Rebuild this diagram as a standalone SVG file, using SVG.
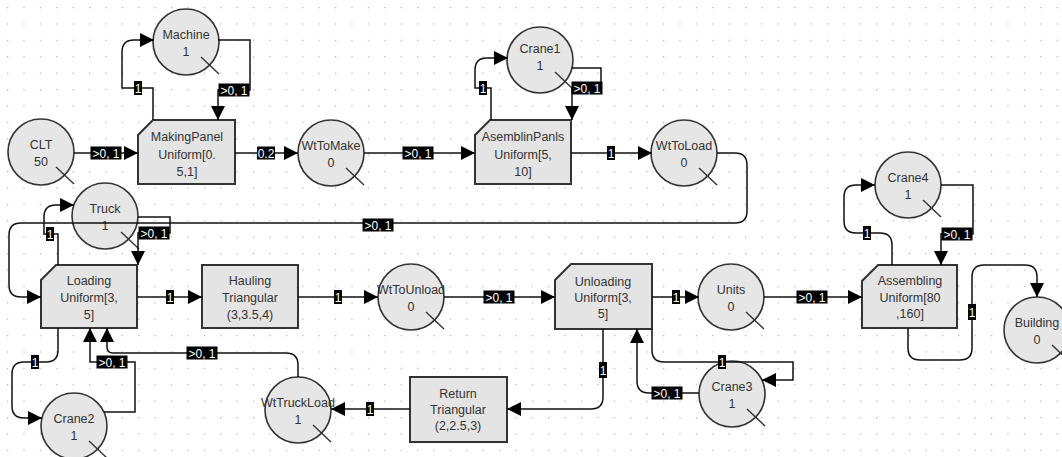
<svg xmlns="http://www.w3.org/2000/svg" width="1062" height="457" viewBox="0 0 1062 457">
  <style>
    .place circle { fill: #e6e6e6; stroke: #333; stroke-width: 1.6; }
    .place line { stroke: #333; stroke-width: 1.4; }
    .trans path { fill: #e4e4e4; stroke: #333; stroke-width: 2; }
    .nt { font-family: "Liberation Sans", Arial, sans-serif; font-size: 12.5px; fill: #333; text-anchor: middle; }
    .arc { fill: none; stroke: #111; stroke-width: 1.5; marker-end: url(#head); }
    .lb rect { fill: #000; }
    .lb text { font-family: "Liberation Sans", Arial, sans-serif; font-size: 12px; fill: #fff; text-anchor: middle; }
  </style>
  <defs>
    <pattern id="dots" x="7" y="7" width="16.4" height="16.4" patternUnits="userSpaceOnUse">
      <rect x="0" y="0" width="1.2" height="1.2" fill="#b0b0b0"/>
    </pattern>
    <marker id="head" markerUnits="userSpaceOnUse" markerWidth="15" markerHeight="15" refX="14" refY="7" orient="auto">
      <path d="M0,0 L14,7 L0,14 z" fill="#000"/>
    </marker>
  </defs>

  <rect width="1062" height="457" fill="#fff"/>
  <rect width="1062" height="457" fill="url(#dots)"/>

  <!-- places -->
  <g id="Machine" class="place"><circle cx="186" cy="42" r="33"/><line x1="201" y1="57" x2="219" y2="74"/><text class="nt" x="186" y="39">Machine</text><text class="nt" x="186" y="56">1</text></g>
  <g id="CLT" class="place"><circle cx="41" cy="152" r="33"/><line x1="56" y1="167" x2="74" y2="184"/><text class="nt" x="41" y="149">CLT</text><text class="nt" x="41" y="166">50</text></g>
  <g id="WtToMake" class="place"><circle cx="331" cy="153" r="33"/><line x1="346" y1="168" x2="364" y2="185"/><text class="nt" x="331" y="150">WtToMake</text><text class="nt" x="331" y="167">0</text></g>
  <g id="Crane1" class="place"><circle cx="540" cy="60" r="33"/><line x1="555" y1="72" x2="573" y2="89"/><text class="nt" x="540" y="53">Crane1</text><text class="nt" x="540" y="70">1</text></g>
  <g id="WtToLoad" class="place"><circle cx="684" cy="153" r="33"/><line x1="699" y1="168" x2="717" y2="185"/><text class="nt" x="684" y="150">WtToLoad</text><text class="nt" x="684" y="167">0</text></g>
  <g id="Truck" class="place"><circle cx="105" cy="216" r="33"/><line x1="121" y1="232" x2="139" y2="249"/><text class="nt" x="105" y="213">Truck</text><text class="nt" x="105" y="230">1</text></g>
  <g id="WtToUnload" class="place"><circle cx="411" cy="297" r="33"/><line x1="426" y1="312" x2="444" y2="329"/><text class="nt" x="411" y="294">WtToUnload</text><text class="nt" x="411" y="311">0</text></g>
  <g id="Units" class="place"><circle cx="731" cy="297" r="33"/><line x1="746" y1="312" x2="764" y2="329"/><text class="nt" x="731" y="294">Units</text><text class="nt" x="731" y="311">0</text></g>
  <g id="Crane4" class="place"><circle cx="908" cy="185" r="33"/><line x1="923" y1="200" x2="941" y2="217"/><text class="nt" x="908" y="182">Crane4</text><text class="nt" x="908" y="199">1</text></g>
  <g id="Building" class="place"><circle cx="1037" cy="330" r="33"/><line x1="1052" y1="345" x2="1070" y2="362"/><text class="nt" x="1037" y="327">Building</text><text class="nt" x="1037" y="344">0</text></g>
  <g id="Crane2" class="place"><circle cx="74" cy="426" r="33"/><line x1="89" y1="441" x2="107" y2="458"/><text class="nt" x="74" y="423">Crane2</text><text class="nt" x="74" y="440">1</text></g>
  <g id="WtTruckLoad" class="place"><circle cx="298" cy="410" r="33"/><line x1="313" y1="425" x2="331" y2="442"/><text class="nt" x="298" y="407">WtTruckLoad</text><text class="nt" x="298" y="424">1</text></g>
  <g id="Crane3" class="place"><circle cx="732" cy="394" r="33"/><line x1="747" y1="409" x2="765" y2="426"/><text class="nt" x="732" y="391">Crane3</text><text class="nt" x="732" y="408">1</text></g>

  <!-- transitions -->
  <g id="MakingPanel" class="trans"><path d="M153,120 H235 V184 H138 V135 Z"/><text class="nt" x="187" y="141">MakingPanel</text><text class="nt" x="187" y="159">Uniform[0.</text><text class="nt" x="187" y="176">5,1]</text></g>
  <g id="AsemblinPanls" class="trans"><path d="M490,120 H571 V184 H475 V135 Z"/><text class="nt" x="523" y="141">AsemblinPanls</text><text class="nt" x="523" y="159">Uniform[5,</text><text class="nt" x="523" y="176">10]</text></g>
  <g id="Loading" class="trans"><path d="M56,265 H137 V328 H41 V280 Z"/><text class="nt" x="89" y="285">Loading</text><text class="nt" x="89" y="302">Uniform[3,</text><text class="nt" x="89" y="319">5]</text></g>
  <g id="Hauling" class="trans"><path d="M202,265 H298 V328 H202 Z"/><text class="nt" x="250" y="285">Hauling</text><text class="nt" x="250" y="302">Triangular</text><text class="nt" x="250" y="319">(3,3.5,4)</text></g>
  <g id="Unloading" class="trans"><path d="M571,264 H652 V329 H555 V280 Z"/><text class="nt" x="603" y="286">Unloading</text><text class="nt" x="603" y="302">Uniform[3,</text><text class="nt" x="603" y="318">5]</text></g>
  <g id="Assembling" class="trans"><path d="M878,265 H957 V328 H862 V281 Z"/><text class="nt" x="910" y="285">Assembling</text><text class="nt" x="910" y="302">Uniform[80</text><text class="nt" x="910" y="318">,160]</text></g>
  <g id="Return" class="trans"><path d="M410,377 H507 V442 H410 Z"/><text class="nt" x="458" y="398">Return</text><text class="nt" x="458" y="414">Triangular</text><text class="nt" x="458" y="430">(2,2.5,3)</text></g>

  <!-- connectors, drawn over the nodes -->
  <g id="connectors">
    <path class="arc" d="M74,153 H138"/>
    <path class="arc" d="M218,40 H250 V90 H218 V120"/>
    <path class="arc" d="M153,120 V88 H122 V52 Q122,40 134,40 H154"/>
    <path class="arc" d="M235,153 H298"/>
    <path class="arc" d="M364,153 H475"/>
    <path class="arc" d="M491,120 V88 H475 V70 Q475,58 487,58 H508"/>
    <path class="arc" d="M572,68 H601 V88 H572 V120"/>
    <path class="arc" d="M571,153 H652"/>
    <path class="arc" d="M717,153 H735 Q747,153 747,165 V211 Q747,223 735,223 H21 Q9,223 9,235 V285 Q9,297 21,297 H41"/>
    <path class="arc" d="M58,265 V234 H44 V217 Q44,205 56,205 H74"/>
    <path class="arc" d="M138,217 H170 V233 H138 V265"/>
    <path class="arc" d="M137,297 H202"/>
    <path class="arc" d="M298,297 H378"/>
    <path class="arc" d="M444,297 H555"/>
    <path class="arc" d="M652,297 H699"/>
    <path class="arc" d="M764,297 H862"/>
    <path class="arc" d="M892,265 V245 Q892,233 880,233 H856 Q844,233 844,221 V197 Q844,185 856,185 H875"/>
    <path class="arc" d="M941,185 H973 V234 H941 V265"/>
    <path class="arc" d="M908,328 V348 Q908,360 920,360 H960 Q972,360 972,348 V277 Q972,265 984,265 H1025 Q1037,265 1037,277 V297"/>
    <path class="arc" d="M58,328 V350 Q58,362 46,362 H24 Q12,362 12,374 V406 Q12,418 24,418 H42"/>
    <path class="arc" d="M104,412 H135 V362 H90 V328"/>
    <path class="arc" d="M298,377 V365 Q298,353 286,353 H113 Q107,353 107,347 V328"/>
    <path class="arc" d="M410,409 H331"/>
    <path class="arc" d="M603,329 V397 Q603,409 591,409 H507"/>
    <path class="arc" d="M652,329 V350 Q652,362 664,362 H793 V380 H762"/>
    <path class="arc" d="M699,393 H649 Q637,393 637,381 V329"/>

    <!-- arc weights -->
    <g class="lb">
      <rect x="90.5" y="146.5" width="31" height="13"/><text x="106" y="157.5">&gt;0, 1</text>
      <rect x="218.5" y="83.5" width="31" height="13"/><text x="234" y="94.5">&gt;0, 1</text>
      <rect x="134" y="81" width="8" height="14"/><text x="138" y="92.5">1</text>
      <rect x="257" y="146.5" width="18" height="13"/><text x="266" y="157.5">0.2</text>
      <rect x="402.5" y="146.5" width="31" height="13"/><text x="418" y="157.5">&gt;0, 1</text>
      <rect x="479" y="81" width="8" height="14"/><text x="483" y="92.5">1</text>
      <rect x="571.5" y="81.5" width="31" height="13"/><text x="587" y="92.5">&gt;0, 1</text>
      <rect x="607" y="146" width="8" height="14"/><text x="611" y="157.5">1</text>
      <rect x="362.5" y="218.5" width="31" height="13"/><text x="378" y="229.5">&gt;0, 1</text>
      <rect x="46" y="227" width="8" height="14"/><text x="50" y="238.5">1</text>
      <rect x="138.5" y="226.5" width="31" height="13"/><text x="154" y="237.5">&gt;0, 1</text>
      <rect x="166" y="290" width="8" height="14"/><text x="170" y="301.5">1</text>
      <rect x="334" y="290" width="8" height="14"/><text x="338" y="301.5">1</text>
      <rect x="483.5" y="290.5" width="31" height="13"/><text x="499" y="301.5">&gt;0, 1</text>
      <rect x="672" y="290" width="8" height="14"/><text x="676" y="301.5">1</text>
      <rect x="796.5" y="290.5" width="31" height="13"/><text x="812" y="301.5">&gt;0, 1</text>
      <rect x="863" y="226" width="8" height="14"/><text x="867" y="237.5">1</text>
      <rect x="941.5" y="227.5" width="31" height="13"/><text x="957" y="238.5">&gt;0, 1</text>
      <rect x="968" y="304" width="8" height="16"/><text x="972" y="316.5">1</text>
      <rect x="31" y="355" width="8" height="14"/><text x="35" y="366.5">1</text>
      <rect x="96.5" y="355.5" width="31" height="13"/><text x="112" y="366.5">&gt;0, 1</text>
      <rect x="186.5" y="346.5" width="31" height="13"/><text x="202" y="357.5">&gt;0, 1</text>
      <rect x="366" y="402" width="8" height="14"/><text x="370" y="413.5">1</text>
      <rect x="599" y="362" width="8" height="16"/><text x="603" y="374.5">1</text>
      <rect x="718" y="355" width="8" height="14"/><text x="722" y="366.5">1</text>
      <rect x="651.5" y="386.5" width="31" height="13"/><text x="667" y="397.5">&gt;0, 1</text>
    </g>
  </g>
</svg>
